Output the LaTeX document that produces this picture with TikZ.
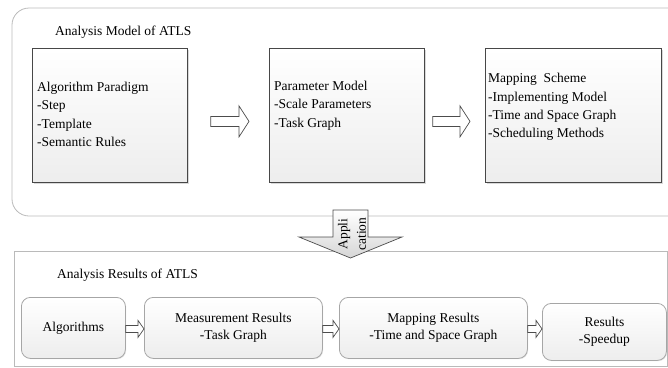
\documentclass[tikz,border=0pt]{standalone}
\usepackage{fontspec}
\setmainfont{Liberation Serif}
\usetikzlibrary{calc,shadows}
\newcommand{\blkarr}[5]{% from, to, shaft half, head half, head length
  \draw[blk] let \p1=(#1), \p2=(#2) in
    (\x1,\y1+#3) -- (\x2-#5,\y1+#3) -- (\x2-#5,\y1+#4) -- (\x2,\y1)
    -- (\x2-#5,\y1-#4) -- (\x2-#5,\y1-#3) -- (\x1,\y1-#3) -- cycle;}
\begin{document}
\begin{tikzpicture}[x=1pt,y=-1pt,
  every node/.style={font=\fontsize{13.5}{18.3}\selectfont},
  outerbox/.style={draw=black!27, line width=0.8pt},
  topbox/.style={draw=black!72, line width=0.8pt, top color=white, bottom color=black!7,
    anchor=north west, inner sep=0pt,
    drop shadow={shadow xshift=1.2pt, shadow yshift=-1.2pt, opacity=0.3}},
  botbox/.style={draw=black!35, line width=0.8pt, rounded corners=9pt, top color=white,
    bottom color=black!7, anchor=north west, inner sep=0pt, align=center,
    font=\fontsize{13.5}{17.5}\selectfont,
    drop shadow={shadow xshift=0.8pt, shadow yshift=-0.8pt, opacity=0.2}},
  blk/.style={draw=black!70, line width=0.7pt, fill=white},
  apparrow/.style={draw=black!70, line width=0.7pt, top color=white, bottom color=black!16},
  txt/.style={align=left, inner sep=0pt, anchor=west},
]
\useasboundingbox (0,0) rectangle (668,367);
\clip (0,0) rectangle (668,367);

% outer frames
\draw[outerbox, rounded corners=17pt] (12,8) rectangle (700,216);
\draw[outerbox] (14,251) rectangle (667,366);

% titles
\node[txt] (t1) at (55,32) {Analysis Model of ATLS};
\node[txt] (t2) at (57,275) {Analysis Results of ATLS};

% top boxes
\node[topbox, minimum width=155pt, minimum height=134pt] (b1) at (32,48) {};
\node[topbox, minimum width=155pt, minimum height=134pt] (b2) at (269,48) {};
\node[topbox, minimum width=176pt, minimum height=134pt] (b3) at (485,48) {};

\node[txt] (l1) at (37,114.5) {Algorithm Paradigm\\-Step\\-Template\\-Semantic Rules};
\node[txt] (l2) at (274,105.5) {Parameter Model\\-Scale Parameters\\-Task Graph};
\node[txt] (l3) at (488,107) {Mapping\ \ Scheme\\-Implementing Model\\-Time and Space Graph\\-Scheduling Methods};

% top block arrows
\coordinate (a1s) at ($(b1.east)+(23,6)$);
\coordinate (a1e) at ($(b2.west)+(-20,6)$);
\coordinate (a2s) at ($(b2.east)+(8,6)$);
\coordinate (a2e) at ($(b3.west)+(-15,6)$);
\blkarr{a1s}{a1e}{5pt}{15.5pt}{10pt}
\blkarr{a2s}{a2e}{5pt}{15.5pt}{10pt}

% application arrow
\draw[apparrow] (333,210) -- (368,210) -- (368,237) -- (402,237) -- (350.5,258)
  -- (299,237) -- (333,237) -- cycle;
\node[rotate=90, align=center, inner sep=0pt] (app) at (352,234) {Appli\\cation};

% bottom boxes
\node[botbox, minimum width=104pt, minimum height=61pt] (c1) at (21,297) {Algorithms};
\node[botbox, minimum width=178pt, minimum height=61pt] (c2) at (144,297) {Measurement Results\\-Task Graph};
\node[botbox, minimum width=188pt, minimum height=61pt] (c3) at (339,297) {Mapping Results\\-Time and Space Graph};
\node[botbox, minimum width=124pt, minimum height=57pt] (c4) at (542,303) {Results\\-Speedup};

% bottom block arrows
\coordinate (d1s) at ($(c1.east)+(0,1)$);
\coordinate (d1e) at ($(c2.west)+(0,1)$);
\coordinate (d2s) at ($(c2.east)+(0,1)$);
\coordinate (d2e) at ($(c3.west)+(0,1)$);
\coordinate (d3s) at ($(c3.east)+(0,1)$);
\coordinate (d3e) at (c4.west |- d3s);
\blkarr{d1s}{d1e}{3.5pt}{8.5pt}{6pt}
\blkarr{d2s}{d2e}{3.5pt}{8.5pt}{6pt}
\blkarr{d3s}{d3e}{3.5pt}{8.5pt}{6pt}
\end{tikzpicture}
\end{document}
